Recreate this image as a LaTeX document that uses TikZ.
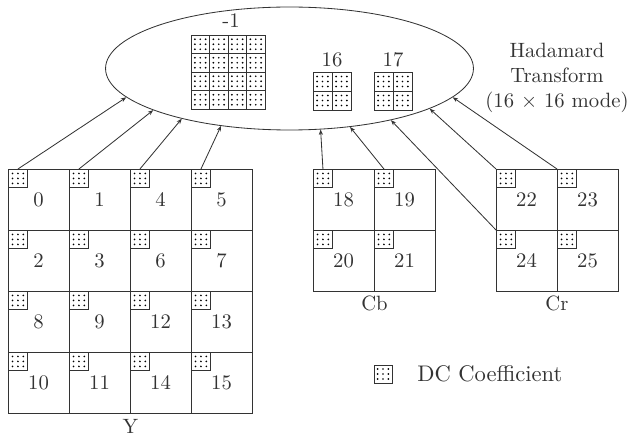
\documentclass[tikz,border=0pt]{standalone}
\usetikzlibrary{shapes.geometric,arrows.meta}
\begin{document}
\begin{tikzpicture}[x=0.483pt,y=-0.483pt,line width=0.4pt,color=black!80,
  cell/.style={draw,minimum size=29.46pt,inner sep=0pt,outer sep=0pt},
  dc/.style={draw,inner sep=0pt,outer sep=0pt,minimum width=9.6pt,minimum height=9.1pt,anchor=north west,
    path picture={\foreach \dx in {-2.6,0,2.6}{\foreach \dy in {-2.4,0,2.4}{
      \fill[black] ([shift={(\dx pt,\dy pt)}]path picture bounding box.center) circle (0.45pt);}}}},
  bdc/.style={dc,minimum width=8.94pt,minimum height=8.94pt},
  pdc/.style={dc,minimum width=9.18pt,minimum height=9.18pt},
  arr/.style={-{Stealth[length=2.6pt,width=2pt]},line width=0.4pt}]
\useasboundingbox (0,0) rectangle (629,436);
% Y
\foreach \n/\c/\r in {0/0/0,1/1/0,4/2/0,5/3/0,2/0/1,3/1/1,6/2/1,7/3/1,8/0/2,9/1/2,12/2/2,13/3/2,10/0/3,11/1/3,14/2/3,15/3/3}{
  \node[cell] (c\n) at ({38.5+61*\c},{199.5+61*\r}) {\n};
  \node[dc] (d\n) at (c\n.north west) {};}
% Cb
\foreach \n/\c/\r in {18/0/0,19/1/0,20/0/1,21/1/1}{
  \node[cell] (c\n) at ({343.5+61*\c},{199.5+61*\r}) {\n};
  \node[dc] (d\n) at (c\n.north west) {};}
% Cr
\foreach \n/\c/\r in {22/0/0,23/1/0,24/0/1,25/1/1}{
  \node[cell] (c\n) at ({526.5+61*\c},{199.5+61*\r}) {\n};
  \node[dc] (d\n) at (c\n.north west) {};}
\node (ly) at (130.5,426) {Y};
\node (lcb) at (374.5,303) {Cb};
\node (lcr) at (557,303) {Cr};
% ellipse
\node[ellipse,draw,minimum width=177.7pt,minimum height=59.4pt,inner sep=0pt] (ell) at (289.5,68.5) {};
\foreach \i in {0,...,3}{\foreach \j in {0,...,3}{
  \node[bdc] (m\i\j) at ({191+18.5*\i},{35+18.5*\j}) {};}}
\node (lm) at (231,21) {-1};
\foreach \i in {0,1}{\foreach \j in {0,1}{
  \node[pdc] (p\i\j) at ({313+19*\i},{72+19*\j}) {};
  \node[pdc] (q\i\j) at ({374+19*\i},{72+19*\j}) {};}}
\node (l16) at (332,60) {16};
\node (l17) at (393,60) {17};
\node[align=center] (had) at (557,78) {Hadamard\\Transform\\(16 $\times$ 16 mode)};
% legend
\node[dc,minimum width=8.7pt,minimum height=8.7pt,anchor=center] (leg) at (383,374) {};
\node[anchor=west,font=\fontsize{10.9}{13}\selectfont] (legt) at (410,374) {DC Coefficient};
% arrows
\draw[arr] (d0.north) -- (ell.190);
\draw[arr] (d1.north) -- (ell.197);
\draw[arr] (d4.north) -- (ell.205);
\draw[arr] (d5.north) -- (ell.220);
\draw[arr] (d18.north) -- (ell.297);
\draw[arr] (d19.north) -- (ell.316);
\draw[arr] (c24.north west) -- (ell.333);
\draw[arr] (c22.north west) -- (ell.344);
\draw[arr] (c23.north west) -- (ell.350);
\end{tikzpicture}
\end{document}
